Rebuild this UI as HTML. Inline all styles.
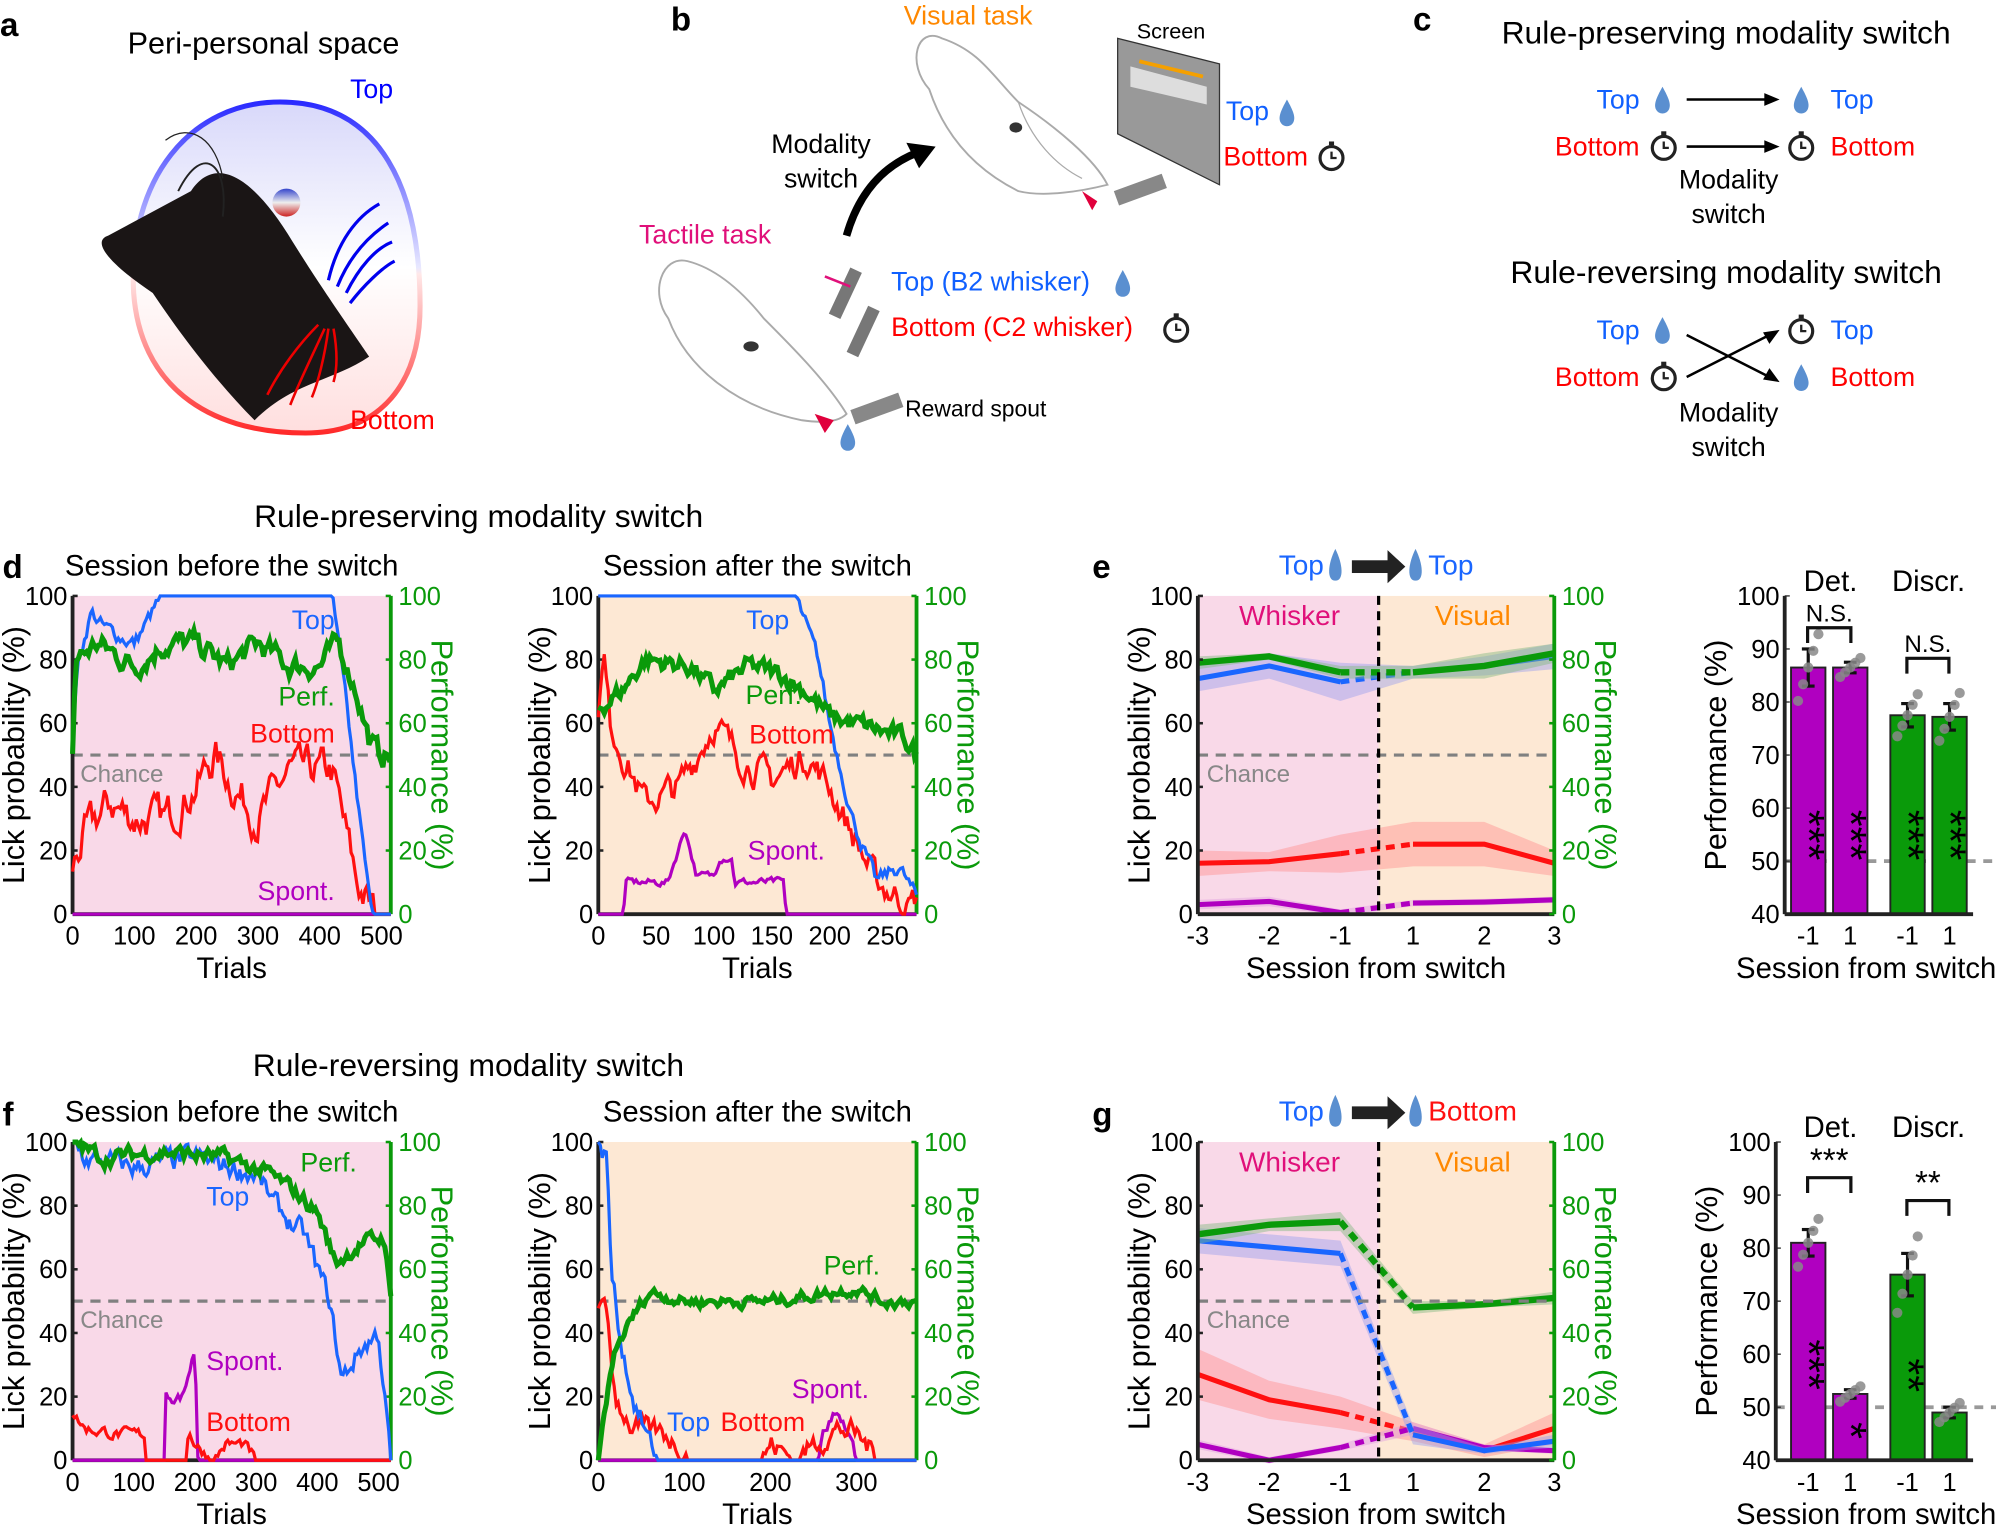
<!DOCTYPE html>
<html><head><meta charset="utf-8">
<style>
html,body{margin:0;padding:0;background:#fff;}
svg{display:block;font-family:"Liberation Sans",Arial,sans-serif;}
</style></head>
<body>
<svg id="s" width="1996" height="1533" viewBox="0 0 1568 1204" xmlns="http://www.w3.org/2000/svg">
<defs>
<linearGradient id="og" x1="0" y1="0" x2="0" y2="1">
<stop offset="0" stop-color="#2a2aff"/><stop offset="0.5" stop-color="#e8e8ff"/><stop offset="0.52" stop-color="#ffe8e8"/><stop offset="1" stop-color="#ff2a2a"/></linearGradient>
<linearGradient id="of" x1="0" y1="0" x2="0" y2="1">
<stop offset="0" stop-color="#d8d8fa"/><stop offset="0.5" stop-color="#ffffff"/><stop offset="1" stop-color="#ffdede"/></linearGradient>
<linearGradient id="eye" x1="0" y1="0" x2="0" y2="1"><stop offset="0" stop-color="#3344cc"/><stop offset="0.5" stop-color="#eee"/><stop offset="1" stop-color="#cc2222"/></linearGradient>
<g id="drop"><path d="M0,-12 C-5,-3 -7,2 -5,6 C-3,10 3,10 5,6 C7,2 5,-3 0,-12Z" fill="#5a8fd0"/></g>
<g id="clk"><circle r="9" fill="#fff" stroke="#222" stroke-width="2.5"/><path d="M0,-5 V0 H4" stroke="#222" stroke-width="1.8" fill="none"/><rect x="-2" y="-13" width="4" height="3" fill="#222"/></g>
</defs>
<g id="root"></g>

<text x="0" y="28" font-size="26" font-weight="bold">a</text>
<text x="207" y="42" font-size="24" text-anchor="middle">Peri-personal space</text>
<path d="M220,80 C300,80 330,150 330,240 C330,300 300,340 240,340 C160,340 110,300 105,230 C100,140 150,80 220,80Z" fill="url(#of)" stroke="url(#og)" stroke-width="4"/>
<path d="M150,150 C170,120 200,140 230,190 C255,230 280,265 290,280 C260,300 230,300 200,330 C170,300 140,260 120,230 C90,210 70,190 85,185 Z" fill="#1a1515"/>
<path d="M140,150 C160,110 180,130 175,170" fill="none" stroke="#222" stroke-width="1.5"/>
<path d="M130,110 C150,95 170,110 175,140" fill="none" stroke="#222" stroke-width="1"/>
<circle cx="225" cy="159" r="11" fill="url(#eye)"/>
<g stroke="#0000ee" stroke-width="2.5" fill="none"><path d="M258,220 C265,190 280,170 298,160"/><path d="M265,225 C275,200 290,185 305,175"/><path d="M272,230 C282,210 295,195 308,190"/><path d="M275,238 C285,225 300,210 310,205"/></g>
<g stroke="#ee0000" stroke-width="2" fill="none"><path d="M250,255 C235,270 220,290 210,310"/><path d="M255,258 C245,280 235,300 228,318"/><path d="M258,258 C255,280 250,300 245,312"/><path d="M262,258 C265,275 265,290 262,300"/></g>
<text x="275" y="77" font-size="21" fill="#0000ff">Top</text>
<text x="275" y="337" font-size="21" fill="#ff0000">Bottom</text>

<text x="527" y="24" font-size="26" font-weight="bold">b</text>
<text x="710" y="19" font-size="21" fill="#ff8800">Visual task</text>
<text x="893" y="30" font-size="17">Screen</text>
<path d="M878,30 L958,50 L958,145 L878,105Z" fill="#999" stroke="#333"/>
<path d="M888,52 L948,68 L948,82 L888,68Z" fill="#ddd"/>
<line x1="945" y1="60" x2="895" y2="48" stroke="#f5a000" stroke-width="3"/>
<path d="M740,30 C720,20 712,50 730,70 C740,100 760,130 800,150 C820,155 850,150 870,145 C860,125 830,100 800,80 C780,60 770,40 740,30Z" fill="#fff" stroke="#aaa" stroke-width="1.5"/>
<path d="M800,80 C810,110 830,130 850,140" fill="none" stroke="#aaa"/>
<ellipse cx="798" cy="100" rx="5" ry="4" fill="#333"/>
<path d="M850,150 L862,158 L858,165Z" fill="#e0003c"/>
<rect x="875" y="150" width="40" height="12" fill="#888" transform="rotate(-20 875 150)"/>
<text x="963" y="94" font-size="21" fill="#1060ff">Top</text>
<use href="#drop" x="1011" y="90"/>
<text x="961" y="130" font-size="21" fill="#ff0000">Bottom</text>
<use href="#clk" x="1046" y="124"/>
<text x="645" y="120" font-size="21" text-anchor="middle">Modality</text>
<text x="645" y="147" font-size="21" text-anchor="middle">switch</text>
<path d="M665,185 C675,150 695,130 720,120" fill="none" stroke="#000" stroke-width="6"/>
<path d="M735,115 L712,112 L722,132Z" fill="#000"/>
<text x="502" y="191" font-size="21" fill="#e0107a">Tactile task</text>
<path d="M540,205 C520,200 510,230 525,250 C540,290 580,320 630,330 C650,333 660,330 665,325 C650,300 620,270 600,250 C580,225 560,210 540,205Z" fill="#fff" stroke="#aaa" stroke-width="1.5"/>
<ellipse cx="590" cy="272" rx="6" ry="4" fill="#333"/>
<path d="M640,325 L655,330 L648,340Z" fill="#e0003c"/>
<rect x="668" y="322" width="40" height="12" fill="#888" transform="rotate(-20 668 322)"/>
<use href="#drop" x="666" y="345"/>
<text x="711" y="327" font-size="18">Reward spout</text>
<rect x="668" y="210" width="10" height="40" fill="#777" transform="rotate(25 668 210)"/>
<rect x="682" y="240" width="10" height="40" fill="#777" transform="rotate(25 682 240)"/>
<line x1="668" y1="225" x2="648" y2="217" stroke="#e0107a" stroke-width="2"/>
<text x="700" y="228" font-size="21" fill="#1060ff">Top (B2 whisker)</text>
<use href="#drop" x="882" y="224"/>
<text x="700" y="264" font-size="21" fill="#ff0000">Bottom (C2 whisker)</text>
<use href="#clk" x="924" y="259"/>

<text x="1110" y="24" font-size="26" font-weight="bold">c</text>
<text x="1356" y="34" font-size="25" text-anchor="middle">Rule-preserving modality switch</text>
<text x="1288" y="85" font-size="21" fill="#1060ff" text-anchor="end">Top</text>
<text x="1288" y="122" font-size="21" fill="#ff0000" text-anchor="end">Bottom</text>
<text x="1438" y="85" font-size="21" fill="#1060ff">Top</text>
<text x="1438" y="122" font-size="21" fill="#ff0000">Bottom</text>
<use href="#drop" x="1306" y="80"/><use href="#drop" x="1415" y="80"/>
<use href="#clk" x="1307" y="116"/><use href="#clk" x="1415" y="116"/>
<line x1="1325" y1="78" x2="1390" y2="78" stroke="#000" stroke-width="2"/><path d="M1398,78 L1386,73 L1386,83Z"/>
<line x1="1325" y1="115" x2="1390" y2="115" stroke="#000" stroke-width="2"/><path d="M1398,115 L1386,110 L1386,120Z"/>
<text x="1358" y="148" font-size="21" text-anchor="middle">Modality</text>
<text x="1358" y="175" font-size="21" text-anchor="middle">switch</text>
<text x="1356" y="222" font-size="25" text-anchor="middle">Rule-reversing modality switch</text>
<text x="1288" y="266" font-size="21" fill="#1060ff" text-anchor="end">Top</text>
<text x="1288" y="303" font-size="21" fill="#ff0000" text-anchor="end">Bottom</text>
<text x="1438" y="266" font-size="21" fill="#1060ff">Top</text>
<text x="1438" y="303" font-size="21" fill="#ff0000">Bottom</text>
<use href="#drop" x="1306" y="261"/><use href="#drop" x="1415" y="298"/>
<use href="#clk" x="1307" y="297"/><use href="#clk" x="1415" y="260"/>
<line x1="1325" y1="296" x2="1390" y2="263" stroke="#000" stroke-width="2"/><path d="M1398,259 L1385,261 L1390,270Z"/>
<line x1="1325" y1="263" x2="1390" y2="296" stroke="#000" stroke-width="2"/><path d="M1398,300 L1390,289 L1385,298Z"/>
<text x="1358" y="331" font-size="21" text-anchor="middle">Modality</text>
<text x="1358" y="358" font-size="21" text-anchor="middle">switch</text>

<text x="376" y="414" font-size="25" text-anchor="middle">Rule-preserving modality switch</text>
<text x="368" y="845" font-size="25" text-anchor="middle">Rule-reversing modality switch</text>
<text x="2" y="454" font-size="26" font-weight="bold">d</text>
<text x="2" y="884" font-size="26" font-weight="bold">f</text>
<text x="858" y="454" font-size="26" font-weight="bold">e</text>
<text x="858" y="884" font-size="26" font-weight="bold">g</text>
</svg>
<script>
var NS="http://www.w3.org/2000/svg",R=document.getElementById('root');
function el(t,a,txt){var e=document.createElementNS(NS,t);for(var k in a)e.setAttribute(k,a[k]);if(txt!==undefined)e.textContent=txt;R.appendChild(e);return e;}
var seed=7;function rnd(){seed=(seed*16807)%2147483647;return seed/2147483647;}
function series(kp,xmax,noise){var pts=[],n=160,nz=0;for(var i=0;i<=n;i++){var t=xmax*i/n,v=kp[kp.length-1][1];for(var j=0;j<kp.length-1;j++){if(t>=kp[j][0]&&t<=kp[j+1][0]){var f=(t-kp[j][0])/(kp[j+1][0]-kp[j][0]||1);v=kp[j][1]+f*(kp[j+1][1]-kp[j][1]);break;}}nz=nz*0.6+(rnd()-0.5)*noise;var vv=v+nz;if(v>=99.5)vv=100;if(v<=0.5)vv=0;vv=Math.max(0,Math.min(100,vv));pts.push([t,vv]);}return pts;}
function axes(x0,x1,y0,y1,bg,xt,xmax,xlab){
 el('rect',{x:x0,y:y0,width:x1-x0,height:y1-y0,fill:bg});
 el('line',{x1:x0,y1:(y0+y1)/2,x2:x1,y2:(y0+y1)/2,stroke:'#808080','stroke-width':2.5,'stroke-dasharray':'8,6'});
 el('line',{x1:x0,y1:y0,x2:x0,y2:y1,stroke:'#222','stroke-width':3});
 el('line',{x1:x0,y1:y1,x2:x1,y2:y1,stroke:'#222','stroke-width':3});
 el('line',{x1:x1,y1:y0,x2:x1,y2:y1,stroke:'#0a9a0a','stroke-width':3});
 for(var v=0;v<=100;v+=20){var y=y1-(y1-y0)*v/100;el('text',{x:x0-4,y:y+7,'font-size':20,'text-anchor':'end'},v);el('line',{x1:x0,y1:y,x2:x0+4,y2:y,stroke:'#222','stroke-width':2});
 el('text',{x:x1+6,y:y+7,'font-size':20,fill:'#0a9a0a'},v);el('line',{x1:x1-4,y1:y,x2:x1,y2:y,stroke:'#0a9a0a','stroke-width':2});}
 xt.forEach(function(t){var x=t[1];el('text',{x:x,y:y1+24,'font-size':20,'text-anchor':'middle'},t[0]);});
 el('text',{x:(x0+x1)/2,y:y1+50,'font-size':23,'text-anchor':'middle'},xlab);
 var yc=(y0+y1)/2;el('text',{x:0,y:0,'font-size':24,'text-anchor':'middle',transform:'translate('+(x0-38)+','+yc+') rotate(-90)'},'Lick probability (%)');
 el('text',{x:0,y:0,'font-size':24,'text-anchor':'middle',fill:'#0a9a0a',transform:'translate('+(x1+32)+','+yc+') rotate(90)'},'Performance (%)');
}
function draw(x0,x1,y0,y1,xmax,kp,col,noise,w){var p=series(kp,xmax,noise).map(function(q){return (x0+(x1-x0)*q[0]/xmax).toFixed(1)+','+(y1-(y1-y0)*q[1]/100).toFixed(1);}).join(' ');el('polyline',{points:p,fill:'none',stroke:col,'stroke-width':w||2.5});}
var B='#1a66ff',G='#0a9a0a',Rd='#ff1010',M='#b000c0';
function raw(x0,x1,y0,y1,bg,xmax,ticks,title,sr){
 axes(x0,x1,y0,y1,bg,ticks.map(function(t){return [t,x0+(x1-x0)*t/xmax];}),xmax,'Trials');
 el('text',{x:(x0+x1)/2,y:y0-16,'font-size':23,'text-anchor':'middle'},title);
 sr.forEach(function(s){draw(x0,x1,y0,y1,xmax,s[0],s[1],s[2],s[3]);});
}
var PK='#f9d9e8',OR='#fde8d4';
raw(57,307,468,718,PK,515,[0,100,200,300,400,500],'Session before the switch',[
 [[[0,0],[515,0]],M,0,2.5],
 [[[0,15],[20,25],[60,35],[100,30],[150,30],[200,40],[230,50],[260,40],[300,30],[350,45],[420,45],[460,10],[490,0],[515,0]],Rd,10],
 [[[0,60],[10,80],[30,95],[50,90],[100,85],[130,95],[145,100],[420,100],[440,70],[480,5],[490,0],[515,0]],B,4],
 [[[0,50],[5,80],[40,85],[100,78],[150,85],[200,85],[250,78],[300,85],[350,78],[400,78],[430,85],[460,70],[480,55],[495,50],[515,50]],G,6,4]]);
el('text',{x:263,y:494,'font-size':21,fill:B,'text-anchor':'end'},'Top');
el('text',{x:263,y:554,'font-size':21,fill:G,'text-anchor':'end'},'Perf.');
el('text',{x:263,y:583,'font-size':21,fill:Rd,'text-anchor':'end'},'Bottom');
el('text',{x:63,y:614,'font-size':19,fill:'#888'},'Chance');
el('text',{x:263,y:707,'font-size':21,fill:M,'text-anchor':'end'},'Spont.');
raw(470,720,468,718,OR,275,[0,50,100,150,200,250],'Session after the switch',[
 [[[0,0],[22,0],[23,10],[60,10],[75,27],[85,12],[100,12],[105,18],[115,18],[118,10],[160,10],[162,0],[275,0]],M,2],
 [[[0,65],[5,80],[10,60],[40,35],[70,40],[100,60],[120,50],[150,42],[180,50],[200,40],[240,10],[270,3],[275,5]],Rd,8],
 [[[0,100],[170,100],[190,80],[200,60],[220,30],[240,10],[260,15],[275,5]],B,4],
 [[[0,65],[20,70],[40,80],[80,78],[100,70],[130,78],[160,75],[180,70],[200,62],[240,58],[265,55],[275,50]],G,5,4]]);
el('text',{x:620,y:494,'font-size':21,fill:B,'text-anchor':'end'},'Top');
el('text',{x:630,y:553,'font-size':21,fill:G,'text-anchor':'end'},'Perf.');
el('text',{x:655,y:584,'font-size':21,fill:Rd,'text-anchor':'end'},'Bottom');
el('text',{x:648,y:675,'font-size':21,fill:M,'text-anchor':'end'},'Spont.');
raw(57,307,897,1147,PK,520,[0,100,200,300,400,500],'Session before the switch',[
 [[[0,0],[150,0],[152,20],[180,20],[200,35],[205,0],[520,0]],M,3],
 [[[0,15],[20,10],[80,8],[118,8],[120,0],[185,0],[190,10],[200,5],[230,0],[250,5],[280,5],[300,0],[520,0]],Rd,3],
 [[[0,100],[20,95],[100,92],[200,95],[300,90],[330,80],[380,70],[420,50],[440,25],[470,35],[500,40],[510,20],[520,0]],B,6],
 [[[0,100],[50,95],[150,97],[250,95],[320,90],[360,85],[400,78],[430,62],[470,68],[510,70],[520,50]],G,4,4]]);
el('text',{x:236,y:920,'font-size':21,fill:G},'Perf.');
el('text',{x:162,y:947,'font-size':21,fill:B},'Top');
el('text',{x:63,y:1043,'font-size':19,fill:'#888'},'Chance');
el('text',{x:162,y:1076,'font-size':21,fill:M},'Spont.');
el('text',{x:162,y:1124,'font-size':21,fill:Rd},'Bottom');
raw(470,720,897,1147,OR,370,[0,100,200,300],'Session after the switch',[
 [[[0,0],[255,0],[260,8],[275,15],[290,10],[300,0],[370,0]],M,3],
 [[[0,50],[10,45],[20,20],[40,10],[80,8],[110,0],[190,0],[200,5],[230,0],[250,5],[280,10],[300,8],[330,0],[370,0]],Rd,6],
 [[[0,100],[10,95],[15,60],[25,40],[40,20],[60,5],[70,0],[370,0]],B,6],
 [[[0,0],[10,20],[20,35],[40,45],[60,53],[100,50],[200,50],[250,52],[300,54],[330,50],[370,50]],G,3,4]]);
el('text',{x:647,y:1001,'font-size':21,fill:G},'Perf.');
el('text',{x:622,y:1098,'font-size':21,fill:M},'Spont.');
el('text',{x:524,y:1124,'font-size':21,fill:B},'Top');
el('text',{x:566,y:1124,'font-size':21,fill:Rd},'Bottom');

var SX=[941,997,1053,1110,1166,1221];
function sess(y0,y1,d,hdrR,hdrCol){
 var x0=941,x1=1221,xm=1083;
 el('rect',{x:x0,y:y0,width:xm-x0,height:y1-y0,fill:PK});
 el('rect',{x:xm,y:y0,width:x1-xm,height:y1-y0,fill:OR});
 function Y(v){return y1-(y1-y0)*v/100;}
 d.forEach(function(s){var m=s[0],lo=s[1],col=s[2],bc=s[3],w=s[4];
  var up=SX.map(function(x,i){return x+','+Y(m[i]+lo[i]);}).join(' ');var dn=SX.slice().reverse().map(function(x,i){var k=5-i;return x+','+Y(m[k]-lo[k]);}).join(' ');
  el('polygon',{points:up+' '+dn,fill:bc,opacity:0.45});
  el('polyline',{points:SX.slice(0,3).map(function(x,i){return x+','+Y(m[i]);}).join(' '),fill:'none',stroke:col,'stroke-width':w});
  el('polyline',{points:SX.slice(3).map(function(x,i){return x+','+Y(m[i+3]);}).join(' '),fill:'none',stroke:col,'stroke-width':w});
  el('line',{x1:SX[2],y1:Y(m[2]),x2:SX[3],y2:Y(m[3]),stroke:col,'stroke-width':w,'stroke-dasharray':'7,5'});
 });
 axes(x0,x1,y0,y1,'none',[['-3',941],['-2',997],['-1',1053],['1',1110],['2',1166],['3',1221]],0,'Session from switch');
 el('line',{x1:xm,y1:y0,x2:xm,y2:y1,stroke:'#000','stroke-width':2.5,'stroke-dasharray':'7,5'});
 el('text',{x:1013,y:y0+23,'font-size':22,fill:'#e0107a','text-anchor':'middle'},'Whisker');
 el('text',{x:1157,y:y0+23,'font-size':22,fill:'#ff8800','text-anchor':'middle'},'Visual');
 el('text',{x:948,y:y0+146,'font-size':19,fill:'#888'},'Chance');
 el('text',{x:1040,y:y0-17,'font-size':22,fill:B,'text-anchor':'end'},'Top');
 el('path',{d:'M1049,'+(y0-37)+' C1043,'+(y0-25)+' 1042,'+(y0-12)+' 1049,'+(y0-12)+' C1056,'+(y0-12)+' 1055,'+(y0-25)+' 1049,'+(y0-37)+'Z',fill:'#5a8fd0'});
 el('path',{d:'M1112,'+(y0-37)+' C1106,'+(y0-25)+' 1105,'+(y0-12)+' 1112,'+(y0-12)+' C1119,'+(y0-12)+' 1118,'+(y0-25)+' 1112,'+(y0-37)+'Z',fill:'#5a8fd0'});
 el('rect',{x:1062,y:y0-28,width:30,height:10,fill:'#222'});
 el('path',{d:'M1090,'+(y0-36)+' L1104,'+(y0-23)+' L1090,'+(y0-10)+'Z',fill:'#222'});
 el('text',{x:1122,y:y0-17,'font-size':22,fill:hdrCol},hdrR);
}
sess(468,718,[
 [[16,16.5,19,22,22,16],[4,3,6,7,7,4],Rd,'#ff9090',4],
 [[3,4,0.5,3.5,3.8,4.5],[1.5,1.5,1,1,1,1],M,'#e0a0e0',4],
 [[74,78,73,76,78,81],[4,4,6,2,3,4],B,'#9aa0ee',4],
 [[79,81,76,76,78,82],[2,1,2,2,4,3],G,'#80b880',5]],'Top',B);
sess(897,1147,[
 [[27,19,15,9,3,10],[8,6,5,3,2,5],Rd,'#ff9090',4],
 [[5,0,4,10,4,3],[1.5,1,1,2,1,1],M,'#e0a0e0',4],
 [[69,67,65,8,3,6],[4,4,4,3,1,2],B,'#9aa0ee',4],
 [[71,74,75,48,49,51],[3,2,3,2,1,2],G,'#80b880',5]],'Bottom',Rd);

function bars(ax,y0,y1,vals,errs,stars,starY,top){
 function Y(v){return y1-(y1-y0)*(v-40)/60;}
 var xs=[[1407,1434],[1440,1467],[1485,1512],[1518,1545]],cols=[M,M,G,G];
 el('line',{x1:ax,y1:Y(50),x2:1568,y2:Y(50),stroke:'#999','stroke-width':3,'stroke-dasharray':'7,6'});
 xs.forEach(function(b,i){el('rect',{x:b[0],y:Y(vals[i]),width:b[1]-b[0],height:y1-Y(vals[i]),fill:cols[i],stroke:'#222','stroke-width':1.5});
  var cx=(b[0]+b[1])/2;el('line',{x1:cx,y1:Y(vals[i]+errs[i]),x2:cx,y2:Y(vals[i]-errs[i]),stroke:'#111','stroke-width':2.5});
  el('line',{x1:cx-5,y1:Y(vals[i]+errs[i]),x2:cx+5,y2:Y(vals[i]+errs[i]),stroke:'#111','stroke-width':2.5});
  el('line',{x1:cx-5,y1:Y(vals[i]-errs[i]),x2:cx+5,y2:Y(vals[i]-errs[i]),stroke:'#111','stroke-width':2.5});
  for(var k=0;k<5;k++)el('circle',{cx:cx+(k-2)*4,cy:Y(vals[i]+(k-2)*errs[i]*0.9),r:4,fill:'#888',opacity:0.85});
  el('text',{x:cx,y:y1+24,'font-size':20,'text-anchor':'middle'},i%2?'1':'-1');
 });
 xs.forEach(function(b,i){var cx=(b[0]+b[1])/2;
  if(stars[i])el('text',{x:0,y:0,'font-size':34,'text-anchor':'start',transform:'translate('+(cx-11)+','+(y1-starY[i])+') rotate(90)'},stars[i]);});
 el('line',{x1:ax,y1:y0,x2:ax,y2:y1,stroke:'#222','stroke-width':3});
 el('line',{x1:ax,y1:y1,x2:1550,y2:y1,stroke:'#222','stroke-width':3});
 for(var v=40;v<=100;v+=10){el('text',{x:ax-4,y:Y(v)+7,'font-size':20,'text-anchor':'end'},v);el('line',{x1:ax,y1:Y(v),x2:ax+4,y2:Y(v),stroke:'#222'});}
 el('text',{x:0,y:0,'font-size':24,'text-anchor':'middle',transform:'translate('+(ax-46)+','+((y0+y1)/2)+') rotate(-90)'},'Performance (%)');
 el('text',{x:1466,y:y1+50,'font-size':23,'text-anchor':'middle'},'Session from switch');
 el('text',{x:1438,y:y0-4,'font-size':23,'text-anchor':'middle'},'Det.');
 el('text',{x:1515,y:y0-4,'font-size':23,'text-anchor':'middle'},'Discr.');
 top.forEach(function(t){el('path',{d:'M'+t[0]+','+(t[2]+12)+' V'+t[2]+' H'+t[1]+' V'+(t[2]+12),fill:'none',stroke:'#111','stroke-width':2.5});el('text',{x:(t[0]+t[1])/2,y:t[2]-5,'font-size':t[3]=='N.S.'?19:26,'text-anchor':'middle'},t[3]);});
}
bars(1402,468,718,[86.5,86.5,77.5,77.2],[3.5,1,2.2,2.5],['***','***','***','***'],[82,82,82,82],[[1420,1454,493,'N.S.'],[1498,1531,517,'N.S.']]);
bars(1395,897,1147,[81,52.5,75,49],[2.5,0.8,4,1],['***','*','**',''],[95,30,80,0],[[1420,1454,925,'***'],[1498,1531,943,'**']]);
</script>
</body></html>
